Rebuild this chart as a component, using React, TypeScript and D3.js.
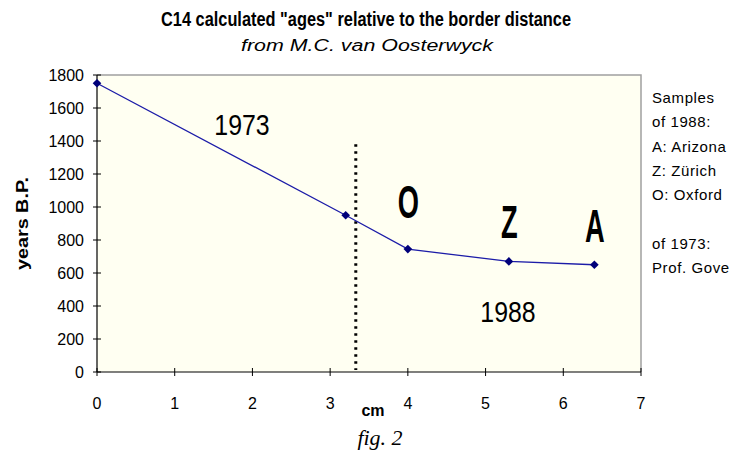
import React from 'react';
import * as d3 from 'd3';

// distance from border (cm) vs calculated age (years B.P.)
const distances = [0, 3.2, 4, 5.3, 6.4];
const ages = [1750, 950, 745, 670, 650];
const xTicks = [0, 1, 2, 3, 4, 5, 6, 7];
const yTicks = [0, 200, 400, 600, 800, 1000, 1200, 1400, 1600, 1800];
const borderX = 3.33;
const borderTop = 1380;
const labLetters = [
  { letter: 'O', x: 4, y: 933 },
  { letter: 'Z', x: 5.3, y: 812 },
  { letter: 'A', x: 6.4, y: 788 },
];
const sideNotes = ['Samples', 'of 1988:', 'A: Arizona', 'Z: Zürich', 'O: Oxford', '', 'of 1973:', 'Prof. Gove'];

const W = 732;
const H = 457;
const left = 97;
const right = 641;
const top = 75;
const bottom = 372;

const sans = '"Liberation Sans", Arial, sans-serif';

export default function App() {
  const x = d3.scaleLinear().domain([0, 7]).range([left, right]);
  const y = d3.scaleLinear().domain([0, 1800]).range([bottom, top]);
  const pts = distances.map((d, i) => [x(d), y(ages[i])] as [number, number]);
  const line = d3.line()(pts) || '';
  const diamond = d3.symbol().type(d3.symbolDiamond2).size(48)() || '';

  return (
    <svg width={W} height={H} style={{ position: 'absolute', left: 0, top: 0, background: '#fff' }}>
      <text x={161} y={26} fontFamily={sans} fontWeight="bold" fontSize={20} textLength={410} lengthAdjust="spacingAndGlyphs">
        C14 calculated "ages" relative to the border distance
      </text>
      <text x={241} y={51} fontFamily={sans} fontStyle="italic" fontSize={16} textLength={252} lengthAdjust="spacingAndGlyphs">
        from M.C. van Oosterwyck
      </text>

      {/* plot area */}
      <rect x={left} y={top} width={right - left} height={bottom - top} fill="#fffff2" />
      <path d={`M${left},${top}H${right}V${bottom}`} fill="none" stroke="#a0a0a0" strokeWidth={1.5} />

      {/* axes */}
      <line x1={left} x2={left} y1={top} y2={bottom} stroke="#000" strokeWidth={1.2} />
      <line x1={left} x2={right} y1={bottom} y2={bottom} stroke="#000" strokeWidth={1.2} />
      {yTicks.map((t) => (
        <g key={'y' + t}>
          <line x1={left - 4} x2={left + 4} y1={y(t)} y2={y(t)} stroke="#000" />
          <text x={left - 13} y={y(t) + 6} textAnchor="end" fontFamily={sans} fontSize={16}>
            {t}
          </text>
        </g>
      ))}
      {xTicks.map((t) => (
        <g key={'x' + t}>
          <line x1={x(t)} x2={x(t)} y1={bottom - 4} y2={bottom + 4} stroke="#000" />
          <text x={x(t)} y={bottom + 37} textAnchor="middle" fontFamily={sans} fontSize={16}>
            {t}
          </text>
        </g>
      ))}
      <text
        transform={`translate(28,${(top + bottom) / 2}) rotate(-90)`}
        textAnchor="middle"
        fontFamily={sans}
        fontWeight="bold"
        fontSize={17}
        textLength={93}
        lengthAdjust="spacingAndGlyphs"
      >
        years B.P.
      </text>
      <text x={373} y={416} textAnchor="middle" fontFamily={sans} fontWeight="bold" fontSize={16}>
        cm
      </text>
      <text x={380} y={445} textAnchor="middle" fontFamily='"Liberation Serif", "DejaVu Serif", serif' fontStyle="italic" fontSize={22}>
        fig. 2
      </text>

      {/* border line */}
      <line
        x1={x(borderX)}
        x2={x(borderX)}
        y1={y(borderTop)}
        y2={bottom - 2}
        stroke="#000"
        strokeWidth={3}
        strokeDasharray="2.5 4.5"
      />

      <path d={line} fill="none" stroke="#1c1ca8" strokeWidth={1.3} />
      {pts.map((p, i) => (
        <path key={i} d={diamond} transform={`translate(${p[0]},${p[1]})`} fill="#00007a" />
      ))}

      <text transform="translate(242,135) scale(0.83,1)" textAnchor="middle" fontFamily={sans} fontSize={30}>1973</text>
      <text transform="translate(508,322) scale(0.83,1)" textAnchor="middle" fontFamily={sans} fontSize={30}>1988</text>
      {labLetters.map((l) => (
        <text
          key={l.letter}
          transform={`translate(${x(l.x) + 0.5},${y(l.y)}) scale(0.58,1)`}
          textAnchor="middle"
          fontFamily={sans}
          fontWeight="bold"
          fontSize={47}
        >
          {l.letter}
        </text>
      ))}

      {sideNotes.map((s, i) => (
        <text key={i} x={652} y={103 + i * 24.3} fontFamily={sans} fontSize={15} letterSpacing={0.6}>
          {s}
        </text>
      ))}
    </svg>
  );
}
